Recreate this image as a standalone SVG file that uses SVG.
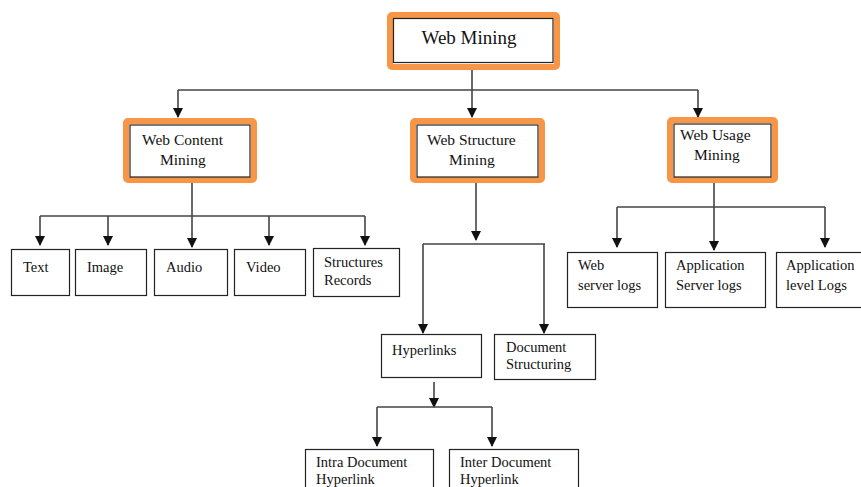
<svg xmlns="http://www.w3.org/2000/svg" width="861" height="487" viewBox="0 0 861 487">
  <defs>
    <marker id="arrow" markerWidth="11" markerHeight="11" refX="9" refY="5" orient="auto" markerUnits="userSpaceOnUse">
      <path d="M0,0 L10,5 L0,10 Z" fill="#111"/>
    </marker>
    <style>
      .hl { fill: #fff; stroke: #F79646; stroke-width: 6; }
      .box { fill: #fff; stroke: #222; stroke-width: 1.2; }
      .in { fill: none; stroke: #222; stroke-width: 1.2; }
      .ln { fill: none; stroke: #444; stroke-width: 1.6; }
      .ar { fill: none; stroke: #444; stroke-width: 1.6; marker-end: url(#arrow); }
      text { font-family: "Liberation Serif", "Times New Roman", serif; fill: #111; }
      .t1 { font-size: 19px; }
      .t2 { font-size: 15.5px; }
      .t3 { font-size: 14.5px; }
    </style>
  </defs>
  <rect width="861" height="487" fill="#fff"/>

  <g id="connectors">
    <!-- root to second level -->
    <path class="ln" d="M472,63 V90 M178,90 H698"/>
    <path class="ar" d="M178,90 V117"/>
    <path class="ar" d="M472,90 V117"/>
    <path class="ar" d="M698,90 V117"/>
    <!-- content mining children -->
    <path class="ln" d="M40,216 H365"/>
    <path class="ar" d="M192,183 V247"/>
    <path class="ar" d="M40,216 V245"/>
    <path class="ar" d="M108,216 V245"/>
    <path class="ar" d="M269,216 V245"/>
    <path class="ar" d="M365,216 V245"/>
    <!-- structure mining children -->
    <path class="ar" d="M476,183 V240"/>
    <path class="ln" d="M423,244 H545"/>
    <path class="ar" d="M423,244 V333"/>
    <path class="ar" d="M544,244 V333"/>
    <!-- hyperlink children -->
    <path class="ar" d="M434,382 V407"/>
    <path class="ln" d="M377,407 H492"/>
    <path class="ar" d="M377,407 V446"/>
    <path class="ar" d="M492,407 V446"/>
    <!-- usage mining children -->
    <path class="ln" d="M617,207 H825"/>
    <path class="ar" d="M714,183 V250"/>
    <path class="ar" d="M617,207 V247"/>
    <path class="ar" d="M825,207 V247"/>
  </g>

  <g id="web-mining">
    <rect class="hl" x="390" y="15" width="167" height="52" rx="2"/>
    <rect class="in" x="393.5" y="18.5" width="159.5" height="44"/>
    <text class="t1" x="469" y="44" text-anchor="middle">Web Mining</text>
  </g>

  <g id="web-content-mining">
    <rect class="hl" x="126" y="121" width="128" height="59" rx="2"/>
    <rect class="in" x="130" y="125" width="120" height="52"/>
    <text class="t2" x="142" y="145">Web Content</text>
    <text class="t2" x="160" y="165">Mining</text>
  </g>

  <g id="web-structure-mining">
    <rect class="hl" x="413" y="121" width="129" height="59" rx="2"/>
    <rect class="in" x="417" y="125" width="121" height="52"/>
    <text class="t2" x="427" y="145">Web Structure</text>
    <text class="t2" x="449" y="165">Mining</text>
  </g>

  <g id="web-usage-mining">
    <rect class="hl" x="670" y="120" width="105" height="60" rx="2"/>
    <rect class="in" x="674" y="124" width="97" height="53"/>
    <text class="t2" x="680" y="140">Web Usage</text>
    <text class="t2" x="694" y="160">Mining</text>
  </g>

  <g id="text">
    <rect class="box" x="11.5" y="249.5" width="58" height="46"/>
    <text class="t3" x="23" y="272">Text</text>
  </g>
  <g id="image">
    <rect class="box" x="75.5" y="249.5" width="71" height="46"/>
    <text class="t3" x="87" y="272">Image</text>
  </g>
  <g id="audio">
    <rect class="box" x="154.5" y="249.5" width="73" height="46"/>
    <text class="t3" x="166" y="272">Audio</text>
  </g>
  <g id="video">
    <rect class="box" x="234.5" y="249.5" width="71" height="46"/>
    <text class="t3" x="246" y="272">Video</text>
  </g>
  <g id="structures-records">
    <rect class="box" x="313.5" y="248.5" width="86" height="48"/>
    <text class="t3" x="324" y="267">Structures</text>
    <text class="t3" x="324" y="285">Records</text>
  </g>

  <g id="hyperlinks">
    <rect class="box" x="381.5" y="334.5" width="100" height="43"/>
    <text class="t3" x="392" y="355">Hyperlinks</text>
  </g>
  <g id="document-structuring">
    <rect class="box" x="494.5" y="334.5" width="101" height="45"/>
    <text class="t3" x="506" y="352">Document</text>
    <text class="t3" x="506" y="369">Structuring</text>
  </g>

  <g id="intra-document-hyperlink">
    <rect class="box" x="305.5" y="449.5" width="128" height="45"/>
    <text class="t3" x="316" y="467">Intra Document</text>
    <text class="t3" x="316" y="484">Hyperlink</text>
  </g>
  <g id="inter-document-hyperlink">
    <rect class="box" x="449.5" y="449.5" width="129" height="45"/>
    <text class="t3" x="460" y="467">Inter Document</text>
    <text class="t3" x="460" y="484">Hyperlink</text>
  </g>

  <g id="web-server-logs">
    <rect class="box" x="567.5" y="252.5" width="90" height="55"/>
    <text class="t3" x="578" y="270">Web</text>
    <text class="t3" x="578" y="290">server logs</text>
  </g>
  <g id="application-server-logs">
    <rect class="box" x="665.5" y="252.5" width="100" height="55"/>
    <text class="t3" x="676" y="270">Application</text>
    <text class="t3" x="676" y="290">Server logs</text>
  </g>
  <g id="application-level-logs">
    <rect class="box" x="776.5" y="252.5" width="90" height="55"/>
    <text class="t3" x="786" y="270">Application</text>
    <text class="t3" x="786" y="290">level Logs</text>
  </g>
</svg>
